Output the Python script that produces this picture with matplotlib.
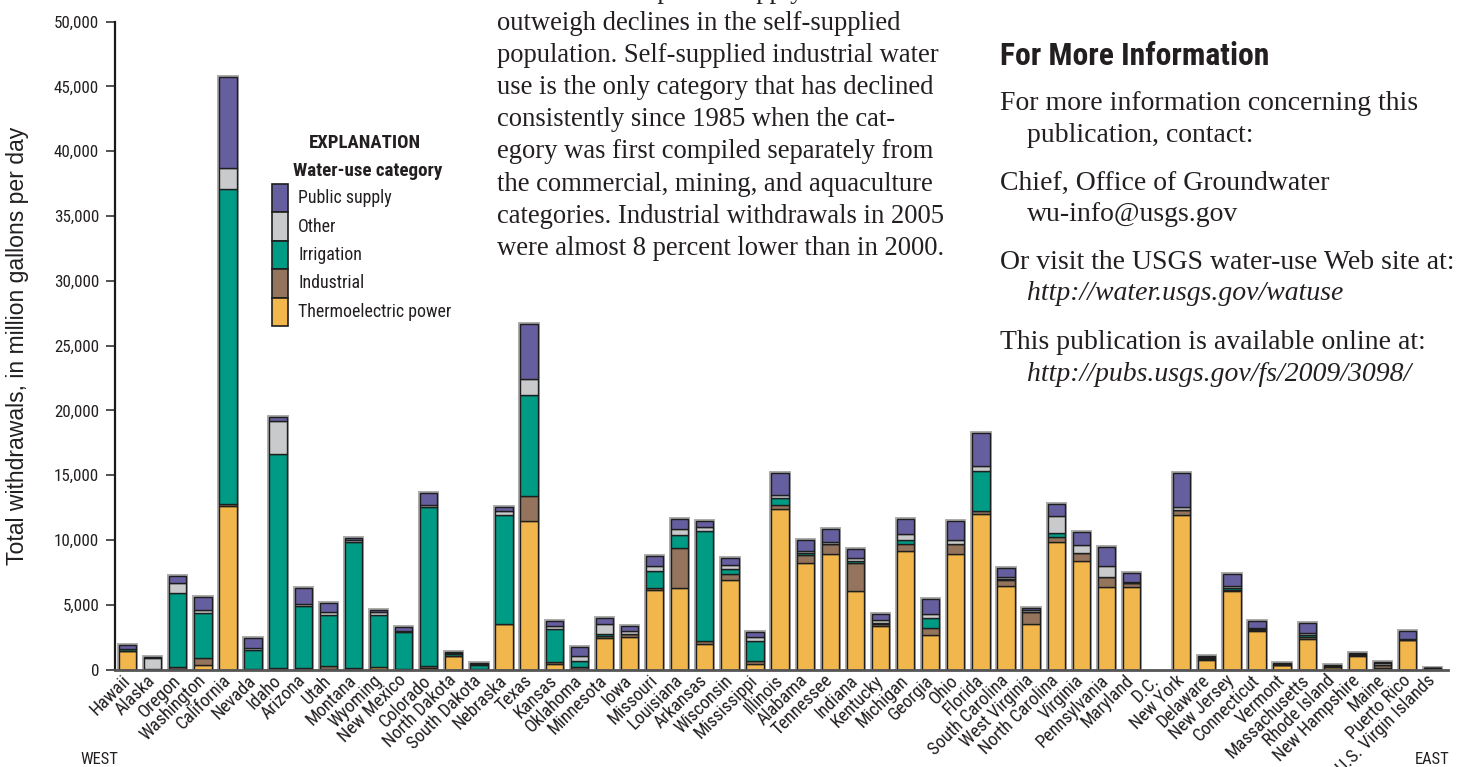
import numpy as np
import matplotlib
matplotlib.use("Agg")
import matplotlib.pyplot as plt
import matplotlib.font_manager as fm
from matplotlib.patches import Rectangle

# ---------------- data (million gallons per day, 2005) ----------------
states = ["Hawaii", "Alaska", "Oregon", "Washington", "California", "Nevada", "Idaho",
          "Arizona", "Utah", "Montana", "Wyoming", "New Mexico", "Colorado",
          "North Dakota", "South Dakota", "Nebraska", "Texas", "Kansas", "Oklahoma",
          "Minnesota", "Iowa", "Missouri", "Louisiana", "Arkansas", "Wisconsin",
          "Mississippi", "Illinois", "Alabama", "Tennessee", "Indiana", "Kentucky",
          "Michigan", "Georgia", "Ohio", "Florida", "South Carolina", "West Virginia",
          "North Carolina", "Virginia", "Pennsylvania", "Maryland", "D.C.", "New York",
          "Delaware", "New Jersey", "Connecticut", "Vermont", "Massachusetts",
          "Rhode Island", "New Hampshire", "Maine", "Puerto Rico", "U.S. Virgin Islands"]

thermoelectric = [1440, 20, 20, 385, 12600, 10, 0, 100, 60, 60, 200, 50, 120,
                  1040, 10, 3500, 11500, 460, 60, 2420, 2470, 6170, 6270, 1970, 6900,
                  400, 12360, 8240, 8910, 6060, 3370, 9130, 2680, 8900, 11990, 6480, 3500,
                  9850, 8390, 6380, 6330, 0, 11960, 770, 6070, 3010, 310, 2370,
                  160, 1055, 150, 2240, 110]
industrial = [20, 10, 150, 540, 150, 10, 100, 20, 200, 80, 20, 20, 150,
              20, 10, 50, 1930, 100, 150, 150, 250, 100, 3090, 200, 460,
              260, 330, 570, 750, 2140, 180, 590, 540, 750, 280, 410, 950,
              410, 570, 770, 310, 0, 330, 60, 100, 70, 30, 130,
              25, 50, 200, 20, 0]
irrigation = [120, 5, 5700, 3470, 24300, 1500, 16500, 4800, 3940, 9680, 3950, 2790, 12300,
              150, 330, 8400, 7790, 2600, 450, 200, 30, 1310, 1000, 8540, 390,
              1540, 510, 200, 50, 180, 50, 310, 770, 30, 3060, 130, 10,
              310, 30, 20, 50, 0, 50, 90, 140, 30, 10, 130,
              25, 10, 20, 60, 0]
other = [40, 880, 770, 230, 1670, 170, 2600, 130, 260, 150, 230, 150, 150,
         40, 40, 300, 1210, 180, 410, 720, 220, 390, 510, 310, 280,
         330, 260, 150, 150, 260, 200, 460, 260, 330, 410, 130, 120,
         1310, 610, 830, 100, 0, 200, 10, 120, 130, 80, 150,
         30, 100, 100, 20, 5]
public_supply = [255, 80, 560, 980, 6975, 720, 310, 1210, 640, 150, 180, 290, 870,
                 100, 100, 320, 4250, 420, 640, 520, 390, 790, 720, 410, 550,
                 390, 1720, 800, 950, 690, 520, 1160, 1180, 1440, 2550, 690, 200,
                 930, 980, 1440, 670, 0, 2635, 90, 950, 515, 60, 820,
                 140, 95, 90, 640, 15]

categories = ["Public supply", "Other", "Irrigation", "Industrial", "Thermoelectric power"]
yticks = list(range(0, 50001, 5000))

# ---------------- styling ----------------
C_PUB, C_OTH, C_IRR, C_IND, C_THE = "#655e9f", "#c9cacc", "#009b85", "#94745c", "#f1b74d"
TXT = "#231f20"
W, H = 1460, 767


def _stretch_val(s):
    if isinstance(s, (int, float)):
        return s
    table = {"ultra-condensed": 100, "extra-condensed": 200, "condensed": 300,
             "semi-condensed": 400, "normal": 500}
    return table.get(str(s), 500)


def condensed_props():
    """Find an installed narrow / condensed sans face (regular + bold)."""
    prefs = ["Liberation Sans Narrow", "Roboto Condensed", "Open Sans Condensed",
             "DejaVu Sans Condensed", "DejaVu Sans", "Noto Sans", "Noto Sans Condensed",
             "Arial Narrow"]
    cands = []
    for f in fm.fontManager.ttflist:
        narrow = ("Narrow" in f.name or "Condensed" in f.name
                  or "Condensed" in f.fname or "Narrow" in f.fname
                  or _stretch_val(f.stretch) < 500)
        if narrow and f.style == "normal":
            cands.append(f)
    if not cands:
        return None, None

    def rank(f):
        try:
            return prefs.index(f.name)
        except ValueError:
            return len(prefs)

    cands.sort(key=lambda f: (rank(f), _stretch_val(f.stretch) != 300))
    best = cands[0].name
    same = [f for f in cands if f.name == best]

    def wt(f):
        w = f.weight
        if isinstance(w, str):
            w = {"normal": 400, "regular": 400, "book": 400, "medium": 500,
                 "bold": 700, "semibold": 600, "light": 300}.get(w, 400)
        return w

    reg = min(same, key=lambda f: abs(wt(f) - 400))
    bold = min(same, key=lambda f: abs(wt(f) - 700))
    return fm.FontProperties(fname=reg.fname), fm.FontProperties(fname=bold.fname)


FP_N, FP_NB = condensed_props()
if FP_N is None:
    FP_N = fm.FontProperties(family="Liberation Sans")
    FP_NB = fm.FontProperties(family="Liberation Sans", weight="bold")
FP_SANS = fm.FontProperties(family="Liberation Sans")
FP_SERIF = fm.FontProperties(family="Liberation Serif")
FP_SERIF_I = fm.FontProperties(family="Liberation Serif", style="italic")

fig = plt.figure(figsize=(W / 100, H / 100), dpi=100)
renderer = fig.canvas.get_renderer()


def fx(px):
    return px / W


def fy(py):
    return 1 - py / H


def fp(base, size):
    p = base.copy()
    p.set_size(size)
    return p


def fit(s, target, base):
    t = fig.text(0, 0, s, fontproperties=fp(base, 10))
    w = t.get_window_extent(renderer).width
    t.remove()
    return 10 * target / w


ax = fig.add_axes([fx(115), fy(669.5), (1448 - 115) / W, (669.5 - 21.7) / H])
x = np.arange(len(states))
bw = 0.69

segs = [(thermoelectric, C_THE), (industrial, C_IND), (irrigation, C_IRR),
        (other, C_OTH), (public_supply, C_PUB)]
arr = [np.array(s, dtype=float) for s, _ in segs]
totals = np.sum(arr, axis=0)
mask = totals > 0
ax.bar(x[mask], totals[mask], bw, facecolor="none", edgecolor="#a8a8a8",
       linewidth=2.8, zorder=1)
bottom = np.zeros(len(states))
for vals, col in zip(arr, [c for _, c in segs]):
    ax.bar(x[mask], vals[mask], bw, bottom=bottom[mask], color=col,
           edgecolor="#1e1e1e", linewidth=1.0, zorder=2)
    bottom += vals

ax.set_xlim(-0.5, 52.61)
ax.set_ylim(0, 50000)
for s in ["top", "right"]:
    ax.spines[s].set_visible(False)
ax.spines["left"].set_color("#1a1a1a")
ax.spines["left"].set_linewidth(1.6)
ax.spines["bottom"].set_color("#555555")
ax.spines["bottom"].set_linewidth(2.0)
ax.spines["bottom"].set_zorder(3)

ytick_fp = fp(FP_N, fit("50,000", 45, FP_N))
ax.set_yticks(yticks)
ax.set_yticklabels([f"{v:,}" for v in yticks], fontproperties=ytick_fp, color=TXT)
ax.tick_params(axis="y", direction="out", length=6.5, width=1.2, pad=5, color="#333333")

xt_fp = fp(FP_N, fit("Washington", 85, FP_N))
ax.set_xticks(x)
ax.set_xticklabels(states, rotation=45, ha="right", va="center", rotation_mode="anchor",
                   fontproperties=xt_fp, color=TXT)
ax.tick_params(axis="x", length=0, pad=6)

# y label
ylab = "Total withdrawals, in million gallons per day"
fig.text(fx(18), fy(345.6), ylab, rotation=90, ha="center", va="center",
         fontproperties=fp(FP_SANS, fit(ylab, 442, FP_SANS)), color=TXT)

we_fp = fp(FP_N, fit("WEST", 38, FP_N))
fig.text(fx(80), fy(759), "WEST", ha="left", va="center", fontproperties=we_fp, color=TXT)
fig.text(fx(1450), fy(759), "EAST", ha="right", va="center", fontproperties=we_fp, color=TXT)

# legend ("EXPLANATION")
fig.text(fx(365), fy(142.5), "EXPLANATION", ha="center", va="center",
         fontproperties=fp(FP_NB, fit("EXPLANATION", 111, FP_NB)), color=TXT)
fig.text(fx(367.5), fy(171), "Water-use category", ha="center", va="center",
         fontproperties=fp(FP_NB, fit("Water-use category", 149, FP_NB)), color=TXT)
leg_fp = fp(FP_N, fit("Thermoelectric power", 153, FP_N))
leg_cols = [C_PUB, C_OTH, C_IRR, C_IND, C_THE]
ph = 28.4
for i, (lab, col) in enumerate(zip(categories, leg_cols)):
    top = 184 + ph * i
    fig.add_artist(Rectangle((fx(272), fy(top + ph)), 16 / W, ph / H, transform=fig.transFigure,
                             facecolor=col, edgecolor="#1e1e1e", linewidth=1.2))
    fig.text(fx(298), fy(top + ph / 2), lab, ha="left", va="center", fontproperties=leg_fp,
             color=TXT)

# body text columns
body_fp = fp(FP_SERIF, fit("were almost 8 percent lower than in 2000.", 448, FP_SERIF))
left_lines = ["as increases in public-supply withdrawals",
              "outweigh declines in the self-supplied",
              "population. Self-supplied industrial water",
              "use is the only category that has declined",
              "consistently since 1985 when the cat-",
              "egory was first compiled separately from",
              "the commercial, mining, and aquaculture",
              "categories. Industrial withdrawals in 2005",
              "were almost 8 percent lower than in 2000."]
for i, line in enumerate(left_lines):
    fig.text(fx(497), fy(-2 + 32.1 * i), line, ha="left", va="baseline",
             fontproperties=body_fp, color=TXT)

fig.text(fx(1000), fy(56), "For More Information", ha="left", va="center",
         fontproperties=fp(FP_NB, fit("For More Information", 268, FP_NB)), color=TXT)

r_size = fit("Or visit the USGS water-use Web site at:", 455, FP_SERIF)
right_lines = [
    (1000, 110, "For more information concerning this", FP_SERIF),
    (1027, 142, "publication, contact:", FP_SERIF),
    (1000, 190, "Chief, Office of Groundwater", FP_SERIF),
    (1027, 221, "wu-info@usgs.gov", FP_SERIF),
    (1000, 269, "Or visit the USGS water-use Web site at:", FP_SERIF),
    (1027, 300, "http://water.usgs.gov/watuse", FP_SERIF_I),
    (1000, 349, "This publication is available online at:", FP_SERIF),
    (1027, 381, "http://pubs.usgs.gov/fs/2009/3098/", FP_SERIF_I),
]
for px, py, s, base in right_lines:
    fig.text(fx(px), fy(py), s, ha="left", va="baseline", fontproperties=fp(base, r_size),
             color=TXT)

fig.savefig("out.png", dpi=100, facecolor="white")
